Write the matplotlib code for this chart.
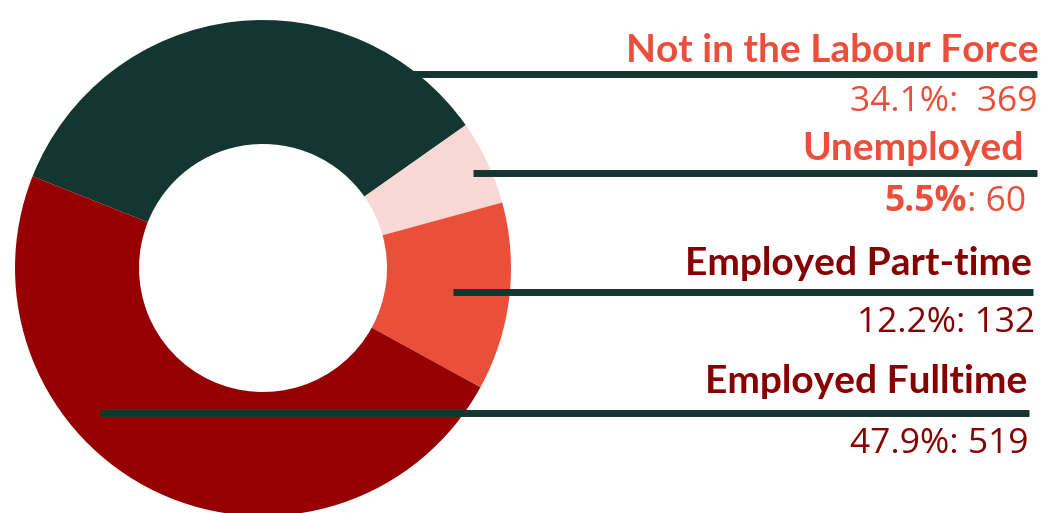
import matplotlib.pyplot as plt

# slices, clockwise from the upper left
labels = ["Not in the Labour Force", "Unemployed", "Employed Part-time", "Employed Fulltime"]
percents = [34.1, 5.5, 12.2, 47.9]
counts = [369, 60, 132, 519]
slice_colors = ["#143631", "#f8d8d4", "#e94f3a", "#960000"]
text_colors = ["#e94f3a", "#e94f3a", "#870000", "#870000"]

W, H = 1045, 513
fig = plt.figure(figsize=(W / 100, H / 100), dpi=100)
ax = fig.add_axes([0, 0, 1, 1])

ax.pie(percents, colors=slice_colors, startangle=158.3, counterclock=False,
       center=(263, H - 268), radius=248,
       wedgeprops=dict(width=124, linewidth=0))
ax.set_xlim(0, W)
ax.set_ylim(0, H)
ax.set_aspect('equal')
ax.axis('off')

line_color = "#143631"
# leader lines: (x start, x end, y) in pixels from top
leaders = [(335, 1037, 73.5), (473, 1037, 172.5), (453, 1033, 292), (100, 1029, 413)]
for x0, x1, y in leaders:
    ax.plot([x0, x1], [H - y, H - y], color=line_color, lw=5.0,
            solid_capstyle='butt', zorder=3)

# label positions: (right edge, name baseline, value right edge, value baseline)
spots = [(1039, 62, 1037, 111), (1024, 160, 1026, 211),
         (1032, 275, 1035, 332), (1027, 393, 1028, 453)]
name_font = dict(family="Lato", fontsize=28, fontweight='bold')
num_font = dict(family="Open Sans", fontsize=25.5)

for i, (lab, pct, cnt) in enumerate(zip(labels, percents, counts)):
    xr, yb, xr2, yb2 = spots[i]
    ax.text(xr, H - yb, lab, ha='right', va='baseline', color=text_colors[i], **name_font)
    if lab == "Unemployed":
        t = ax.text(xr2, H - yb2, f": {cnt}", ha='right', va='baseline',
                    color=text_colors[i], **num_font)
        ax.annotate(f"{pct}%", xy=(0, H - yb2), xycoords=(t, 'data'),
                    ha='right', va='baseline', color=text_colors[i],
                    family="Open Sans", fontsize=25.5, fontweight='bold')
    else:
        sep = ":  " if i == 0 else ": "
        ax.text(xr2, H - yb2, f"{pct}%{sep}{cnt}", ha='right', va='baseline',
                color=text_colors[i], **num_font)

fig.savefig("out.png", dpi=100, facecolor='white')
